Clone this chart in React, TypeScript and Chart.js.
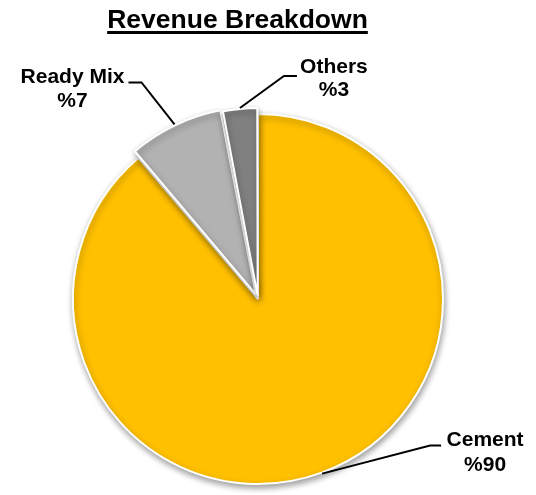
import { useEffect, useRef } from "react";
import Chart from "chart.js/auto";

const TITLE = "Revenue Breakdown";
const categories = ["Cement", "Ready Mix", "Others"];
const shareValues = [88.8, 8.2, 3.0];
const shareLabels = ["%90", "%7", "%3"];
const sliceColors = ["#FFC000", "#B2B2B2", "#808080"];
const sliceOffsets = [0, 20, 13];

const FONT = '"Liberation Sans", Arial, Helvetica, sans-serif';

// leader-line layout per slice, relative to the slice's outer mid-point
const LEADER = [
  { ex: 108, ey: -28, hx: 11, tx: 44, b1: 0, gap: 25 },
  { ex: -33, ey: -42, hx: -13, tx: -56, b1: 1, gap: 24 },
  { ex: 44, ey: -32, hx: 13, tx: 37, b1: -3, gap: 23 },
];

const shadowPlugin = {
  id: "pieShadow",
  beforeDatasetsDraw(chart: any) {
    const ctx = chart.ctx;
    ctx.save();
    ctx.shadowColor = "rgba(0,0,0,0.38)";
    ctx.shadowBlur = 6;
    ctx.shadowOffsetX = 1;
    ctx.shadowOffsetY = 3;
  },
  afterDatasetsDraw(chart: any) {
    chart.ctx.restore();
  },
};

const labelPlugin = {
  id: "leaderLabels",
  afterDraw(chart: any) {
    const ctx = chart.ctx;
    const meta = chart.getDatasetMeta(0);
    ctx.save();
    meta.data.forEach((arc: any, i: number) => {
      const p = arc.getProps(["x", "y", "startAngle", "endAngle", "outerRadius", "circumference"], true);
      const mid = (p.startAngle + p.endAngle) / 2;
      const shift = (arc.options.offset || 0) / 4;
      const fix = 1 - Math.sin(Math.min(Math.PI, p.circumference));
      const r = p.outerRadius + 1 + shift * (1 + fix);
      const ax = p.x + Math.cos(mid) * r;
      const ay = p.y + Math.sin(mid) * r;
      const L = LEADER[i];
      const exx = ax + L.ex;
      const eyy = ay + L.ey;
      const lx = exx + L.hx;
      ctx.beginPath();
      ctx.moveTo(ax, ay);
      ctx.lineTo(exx, eyy);
      ctx.lineTo(lx, eyy);
      ctx.strokeStyle = "#000";
      ctx.lineWidth = 2;
      ctx.stroke();
      ctx.fillStyle = "#000";
      ctx.font = `bold 21px ${FONT}`;
      ctx.textAlign = "center";
      ctx.textBaseline = "alphabetic";
      const tx = lx + L.tx;
      ctx.fillText(categories[i], tx, eyy + L.b1);
      ctx.fillText(shareLabels[i], tx, eyy + L.b1 + L.gap);
    });
    // title with underline
    ctx.font = `bold 26.5px ${FONT}`;
    ctx.textAlign = "center";
    ctx.textBaseline = "alphabetic";
    ctx.fillStyle = "#000";
    const cx = 237.5;
    ctx.fillText(TITLE, cx, 28);
    const w = ctx.measureText(TITLE).width;
    ctx.fillRect(cx - w / 2, 31, w, 3);
    ctx.restore();
  },
};

export default function App() {
  const ref = useRef<HTMLCanvasElement>(null);
  useEffect(() => {
    if (!ref.current) return;
    const chart = new Chart(ref.current, {
      type: "pie",
      data: {
        labels: categories,
        datasets: [
          {
            data: shareValues,
            backgroundColor: sliceColors,
            borderColor: "#ffffff",
            borderWidth: 2,
            offset: sliceOffsets,
            hoverOffset: 0,
          } as any,
        ],
      },
      options: {
        responsive: false,
        animation: false,
        radius: 185,
        events: [],
        layout: { padding: { left: 0, right: 20, top: 108, bottom: 5 } },
        plugins: {
          legend: { display: false },
          tooltip: { enabled: false },
          title: { display: false },
        },
      } as any,
      plugins: [shadowPlugin, labelPlugin],
    });
    return () => chart.destroy();
  }, []);
  return (
    <div style={{ position: "absolute", left: 0, top: 0, width: 536, height: 495, background: "#fff" }}>
      <canvas ref={ref} width={536} height={495} style={{ display: "block" }} />
    </div>
  );
}
